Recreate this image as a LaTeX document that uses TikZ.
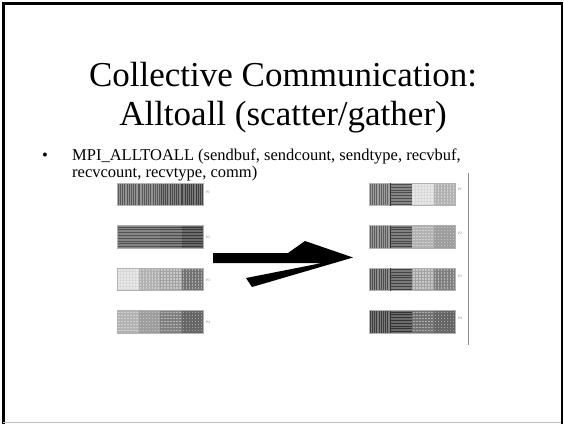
\documentclass[tikz,border=0pt]{standalone}
\usepackage{fontspec}
\setmainfont{Liberation Serif}
\newcommand\segV[4]{%
  \begin{scope}[shift={(#1,#2)}]
    \fill[black!#3] (0,0) rectangle (21.5,22.5);
    \foreach \i in {1.2,3.4,...,21} \draw[black!#4,line width=0.7pt] (\i,0)--(\i,22.5);
  \end{scope}}
\newcommand\segH[4]{%
  \begin{scope}[shift={(#1,#2)}]
    \fill[black!#3] (0,0) rectangle (21.5,22.5);
    \foreach \j in {1.4,4.2,...,22} \draw[black!#4,line width=0.8pt] (0,\j)--(21.5,\j);
  \end{scope}}
\newcommand\segD[3]{%
  \begin{scope}[shift={(#1,#2)}]
    \fill[black!#3] (0,0) rectangle (21.5,22.5);
    \foreach \i in {1.8,4.8,...,21} \foreach \j in {1.8,4.8,...,22}
      \fill[white,opacity=0.4] (\i-0.7,\j-0.7) rectangle ++(1.4,1.4);
  \end{scope}}
\begin{document}
\begin{tikzpicture}[x=1pt,y=-1pt,
  titletext/.style={font=\fontsize{35}{40}\selectfont, anchor=base, inner sep=0pt},
  bodytext/.style={font=\fontsize{16.5}{20}\selectfont, anchor=base west, inner sep=0pt},
  plabel/.style={font=\fontsize{3.5}{4}\selectfont, text=black!55, inner sep=0pt, anchor=west},
  frameline/.style={line width=2.4pt, black},
  baroutline/.style={draw=black!30, line width=0.5pt}]
\useasboundingbox (0,0) rectangle (564,424);
\fill[white] (0,0) rectangle (564,424);
% frame
\draw[frameline] (3.3,424) -- (3.3,3.3) -- (561.7,3.3) -- (561.7,424);
\draw[black!25, line width=1pt] (3,422.5) -- (561,422.5);
% title
\node[titletext] (t1) at (283,86) {Collective Communication:};
\node[titletext] (t2) at (283,125) {Alltoall (scatter/gather)};
% bullet
\node[bodytext, anchor=base] (bul) at (45,160) {•};
\node[bodytext] (l1) at (72,160) {MPI\_ALLTOALL (sendbuf, sendcount, sendtype, recvbuf,};
\node[bodytext] (l2) at (72,177) {recvcount, recvtype, comm)};
% left bars
\segV{117}{183}{42}{66}\segV{138.5}{183}{42}{66}\segV{160}{183}{48}{72}\segV{181.5}{183}{52}{76}
\segH{117}{225.5}{48}{68}\segH{138.5}{225.5}{48}{68}\segH{160}{225.5}{50}{70}\segH{181.5}{225.5}{58}{78}
\segD{117}{268}{15}\segD{138.5}{268}{30}\segD{160}{268}{36}\segD{181.5}{268}{55}
\segD{117}{310.5}{30}\segD{138.5}{310.5}{38}\segD{160}{310.5}{50}\segD{181.5}{310.5}{60}
\foreach \y in {183,225.5,268,310.5} \draw[baroutline] (117,\y) rectangle (203,\y+22.5);
\node[plabel] (lp1) at (206,192) {P1};
\node[plabel] (lp2) at (206,237) {P2};
\node[plabel] (lp3) at (206,280) {P3};
\node[plabel] (lp4) at (206,322) {P4};
% right bars
\segV{369}{183}{38}{62}\segH{390.5}{183}{48}{70}\segD{412}{183}{15}\segD{433.5}{183}{30}
\segV{369}{225.5}{40}{64}\segH{390.5}{225.5}{50}{72}\segD{412}{225.5}{30}\segD{433.5}{225.5}{38}
\segV{369}{268}{45}{70}\segH{390.5}{268}{52}{74}\segD{412}{268}{36}\segD{433.5}{268}{50}
\segV{369}{310.5}{52}{76}\segH{390.5}{310.5}{58}{80}\segD{412}{310.5}{55}\segD{433.5}{310.5}{60}
\foreach \y in {183,225.5,268,310.5} {
  \draw[baroutline] (369,\y) rectangle (455,\y+22.5);
  \draw[black!80, line width=1.2pt] (390.5,\y) -- (390.5,\y+22.5);
}
\node[plabel] (rp1) at (458,189) {P1};
\node[plabel] (rp2) at (458,233) {P2};
\node[plabel] (rp3) at (458,276) {P3};
\node[plabel] (rp4) at (458,318) {P4};
\draw[black!45, line width=1pt] (468,173) -- (468,345);
% arrow
\fill[black] (213,253) -- (288,253) -- (305,241) -- (353,257.5) -- (252,287) -- (246,278)
  -- (322,263) -- (213,263) -- cycle;
\end{tikzpicture}
\end{document}
